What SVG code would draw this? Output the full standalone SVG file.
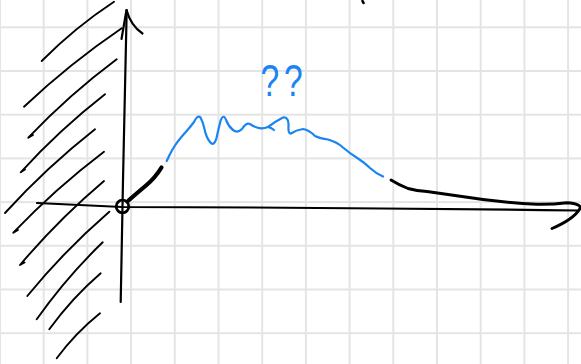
<svg xmlns="http://www.w3.org/2000/svg" width="581" height="364" viewBox="0 0 581 364">
  <style>
    .ink { fill: none; stroke: #000; stroke-linecap: round; stroke-linejoin: round; }
    .hatch { stroke-width: 1.9; }
    .axis { stroke-width: 2.2; }
    .blue { fill: none; stroke: #1a84f2; stroke-width: 2.2; stroke-linecap: round; stroke-linejoin: round; }
    .label { font-family: "Liberation Sans", Arial, sans-serif; font-size: 42px; fill: #1a84f2; }
  </style>
  <defs>
    <pattern id="grid" patternUnits="userSpaceOnUse" x="-21.85" y="5.45" width="43.7" height="43.7">
      <path d="M21.85,0 V43.7 M0,21.85 H43.7" fill="none" stroke="#e4e4e4" stroke-width="2"/>
    </pattern>
  </defs>
  <rect width="581" height="364" fill="#fff"/>
  <rect width="581" height="364" fill="url(#grid)"/>

  <g id="wall-hatching" class="ink hatch">
    <path d="M41.7,61 Q74.8,27.5 114,1.7"/>
    <path d="M24,106.7 Q69.8,63.6 121.7,28.3"/>
    <path d="M33,135 L28.3,137.7 Q69.2,94.7 116.7,59.3"/>
    <path d="M25,169.5 L20.7,172.3 Q59.5,129.8 105,94.3"/>
    <path d="M5,213 Q46.6,167.4 95,129.3"/>
    <path d="M18,230 L13.3,232.7 Q55.3,188.6 104,151.7"/>
    <path d="M24.5,262.5 L20,265 Q58.5,219.5 104,181"/>
    <path d="M27.3,296 Q64.8,250.2 109.3,211.7"/>
    <path d="M36.7,319.3 Q66.5,277.2 102.7,242.3"/>
    <path d="M49.3,329.3 Q72,298 100.7,273.3"/>
    <path d="M56.7,358.3 Q75.5,333 100,313.3"/>
  </g>

  <g id="y-axis" class="ink axis">
    <path d="M126.7,10 L123,180 L120.7,302"/>
    <path d="M121.5,39 L126.5,10 Q131,26 142.5,33.5"/>
  </g>

  <g id="x-axis" class="ink axis">
    <path d="M37,203 L122,207 Q350,207.5 578,210.5"/>
  </g>

  <g id="origin" class="ink">
    <circle cx="122.5" cy="206.5" r="6.3" stroke-width="2.8"/>
    <path d="M128.5,200.5 Q137,193 146,185.5 Q155,178 161.5,167.5" stroke-width="4.2"/>
  </g>

  <g id="curve-uncertain">
    <path class="blue" d="M166.7,161 L169.3,155.5 Q172,150 175,145.5 Q178,141 181,137.5 Q184,134 187.5,130 Q191,126 194,122 Q197.5,114.5 200.5,117.5 Q203,122 204.5,129 Q206,137 210,142 Q214,147 216.5,138 Q218.5,129 220.5,121 Q223.5,112.5 226.5,121 Q229,127 233,130 Q237.5,133.5 242,129 Q246.5,122 250,124 Q253.5,126.5 257,127.5 Q262,129.5 268,127 Q276,121 283,117.5 Q289,117 288.5,126 Q288,134 291,133.5 Q296,130 303,129 Q309,130 315,136 Q320,138.5 328,139.5 Q337,142 343,147.5 Q350,153.5 358,158.5 Q365,163 370,168 Q376,173.5 383,176.5"/>
    <path class="blue" d="M268,127 Q271,127.5 274,130"/>
  </g>

  <g id="curve-tail" class="ink">
    <path d="M391,180 Q399,185 408,188.5 Q417,191 427,191.5 Q455,195.5 483,199.5 Q510,203 537,204.3 Q553,204.5 567,202.8 Q582,204 580,208.5 Q574,219 552,228.5" stroke-width="2.9"/>
  </g>

  <g id="top-mark" class="ink">
    <path d="M362.5,1 L363.5,3" stroke-width="2.6"/>
  </g>

  <g id="question-label">
    <text class="label" transform="translate(260.5,96) scale(0.8,1.05)" letter-spacing="6">??</text>
  </g>
</svg>
